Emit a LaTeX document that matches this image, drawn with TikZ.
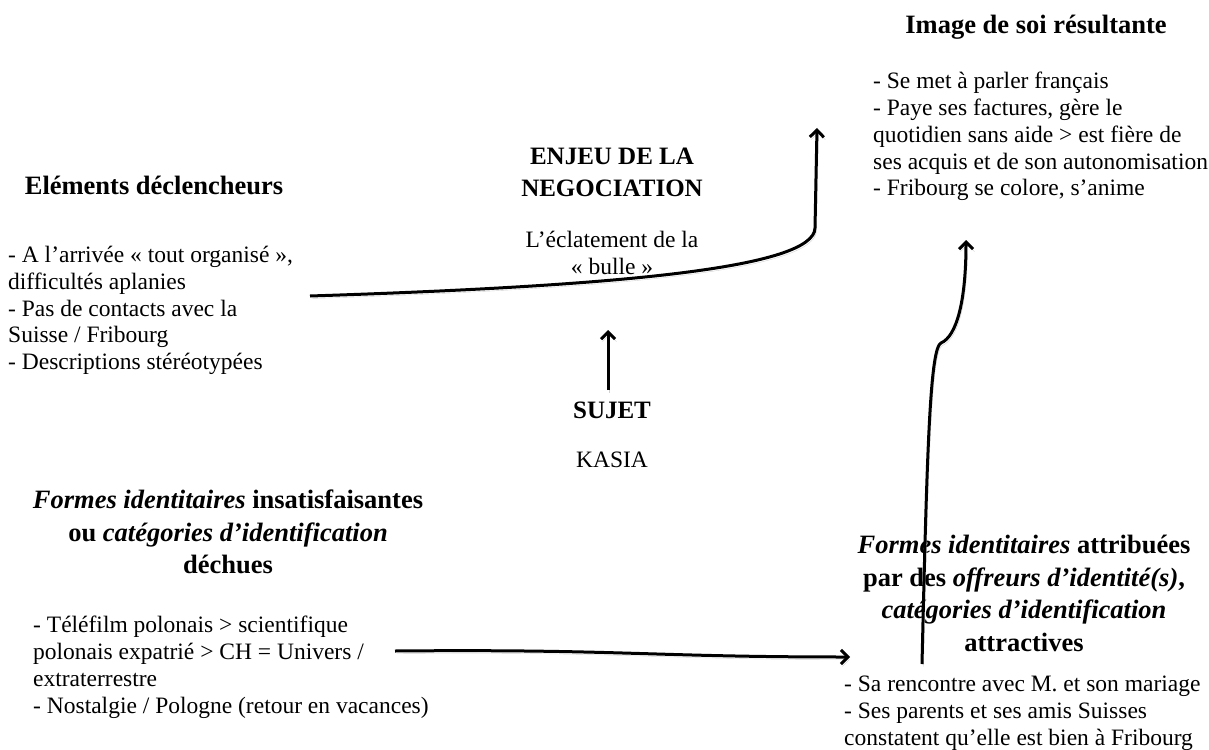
\documentclass[tikz,border=0pt]{standalone}
\usepackage{fontspec}
\setmainfont{Liberation Serif}
\usetikzlibrary{arrows.meta}

\newcommand{\bodysize}{\fontsize{23.5}{26.8}\selectfont}
\newcommand{\headsize}{\fontsize{26.5}{32.5}\selectfont\bfseries}
\newcommand{\capsize}{\fontsize{25}{32}\selectfont\bfseries}

\begin{document}
\begin{tikzpicture}[x=1pt, y=-1pt,
  head/.style={font=\headsize, align=center, inner sep=0pt, anchor=north},
  body/.style={font=\bodysize, align=left, inner sep=0pt, anchor=north west},
  flow/.style={line width=3pt, -{Straight Barb[length=7pt,width=14pt]},
    preaction={draw=black!18, transform canvas={shift={(1.5pt,-2.5pt)}}}}]
  \useasboundingbox (0,0) rectangle (1209,749);

  % top right: the resulting self image
  \node[head] (image) at (1036, 15) {Image de soi résultante};
  \node[body] (imageBody) at (873, 72) {- Se met à parler français\\
    - Paye ses factures, gère le\\
    quotidien sans aide > est fière de\\
    ses acquis et de son autonomisation\\
    - Fribourg se colore, s’anime};

  % centre column
  \node[head, font=\capsize] (enjeu) at (612, 148) {ENJEU DE LA\\NEGOCIATION};
  \node[font=\bodysize, align=center, inner sep=0pt, anchor=north] (bulle) at (612, 231)
    {L’éclatement de la\\« bulle »};
  \node[head, font=\capsize] (sujet) at (612, 402) {SUJET};
  \node[font=\bodysize, inner sep=0pt, anchor=north] (kasia) at (612, 452) {KASIA};

  % left: triggers
  \node[head] (decl) at (154, 176) {Eléments déclencheurs};
  \node[body] (declBody) at (8, 246) {- A l’arrivée « tout organisé »,\\
    difficultés aplanies\\
    - Pas de contacts avec la\\
    Suisse / Fribourg\\
    - Descriptions stéréotypées};

  % bottom left
  \node[head] (dechues) at (228, 490) {\textit{Formes identitaires} insatisfaisantes\\
    ou \textit{catégories d’identification}\\
    déchues};
  \node[body] (dechuesBody) at (33, 616) {- Téléfilm polonais > scientifique\\
    polonais expatrié > CH = Univers /\\
    extraterrestre\\
    - Nostalgie / Pologne (retour en vacances)};

  % bottom right
  \node[head] (attractives) at (1024, 535) {\textit{Formes identitaires} attribuées\\
    par des \textit{offreurs d’identité(s)},\\
    \textit{catégories d’identification}\\
    attractives};
  \node[body] (attractivesBody) at (844, 676) {- Sa rencontre avec M. et son mariage\\
    - Ses parents et ses amis Suisses\\
    constatent qu’elle est bien à Fribourg};

  % free ends of the hand drawn arrows
  \coordinate (topStart) at (310, 296);
  \coordinate (topTip) at (817, 128);
  \coordinate (subjStart) at (608, 390);
  \coordinate (subjTip) at (608, 330);
  \coordinate (lowStart) at (395, 651);
  \coordinate (lowTip) at (850, 657);
  \coordinate (riseStart) at (922, 664);
  \coordinate (riseTip) at (966, 240);

  \draw[flow] (topStart) .. controls (620, 286) and (814, 268) .. (815, 228) -- (topTip);
  \draw[flow] (subjStart) -- (subjTip);
  \draw[flow] (lowStart) .. controls (620, 649) and (650, 657) .. (lowTip);
  \draw[flow] (riseStart) .. controls (927, 450) and (930, 348) .. (941, 343)
    .. controls (957, 336) and (966, 300) .. (riseTip);
\end{tikzpicture}
\end{document}
